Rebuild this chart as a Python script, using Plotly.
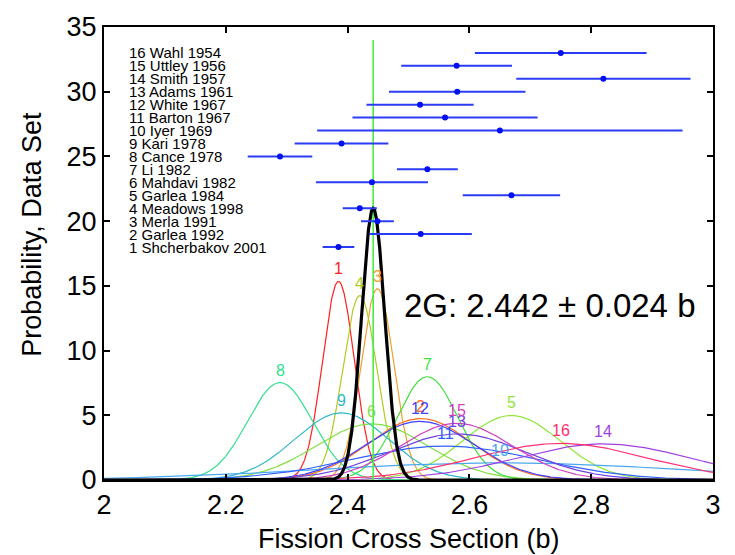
import numpy as np
import plotly.graph_objects as go

# Measured fission cross sections (barns) with 1-sigma uncertainties, data sets 1..16
set_ids = list(range(1, 17))
set_names = [
    "Shcherbakov 2001", "Garlea 1992", "Merla 1991", "Meadows 1998",
    "Garlea 1984", "Mahdavi 1982", "Li 1982", "Cance 1978",
    "Kari 1978", "Iyer 1969", "Barton 1967", "White 1967",
    "Adams 1961", "Smith 1957", "Uttley 1956", "Wahl 1954",
]
set_means = [2.385, 2.520, 2.449, 2.420, 2.669, 2.440, 2.531, 2.289,
             2.390, 2.650, 2.560, 2.519, 2.580, 2.820, 2.579, 2.750]
set_sigmas = [0.026, 0.084, 0.027, 0.028, 0.080, 0.092, 0.050, 0.053,
              0.077, 0.300, 0.152, 0.088, 0.112, 0.143, 0.091, 0.141]
# vertical offset so data set k is plotted at height k + offset
row_offset = 17

set_colors = [
    "#ff2020", "#ff6a1a", "#f0a030", "#b0cc20", "#8ce830", "#80e040",
    "#40e040", "#30e090", "#30b8c8", "#4aa8f0", "#3060ff", "#4040ff",
    "#7040e0", "#a040e0", "#d040c0", "#ff3070",
]

# Combined evaluation
combined_mean = 2.442
combined_unc = 0.024
combined_curve_sigma = 0.019

x_grid = np.linspace(2.0, 3.0, 2001)


def gauss(x, mu, s):
    return np.exp(-0.5 * ((x - mu) / s) ** 2) / (s * np.sqrt(2 * np.pi))


fig = go.Figure()

# individual probability curves
for i, mu, s, c in zip(set_ids, set_means, set_sigmas, set_colors):
    fig.add_trace(go.Scatter(
        x=x_grid, y=gauss(x_grid, mu, s), mode="lines",
        line=dict(color=c, width=1.2), hoverinfo="skip", showlegend=False,
    ))

# vertical line at the combined value
fig.add_trace(go.Scatter(
    x=[combined_mean, combined_mean], y=[0, 34], mode="lines",
    line=dict(color="#44ee44", width=1.6), showlegend=False, hoverinfo="skip",
))

# combined curve
fig.add_trace(go.Scatter(
    x=x_grid, y=gauss(x_grid, combined_mean, combined_curve_sigma), mode="lines",
    line=dict(color="black", width=3.2), showlegend=False, hoverinfo="skip",
))

# measurements with horizontal error bars
fig.add_trace(go.Scatter(
    x=set_means, y=[k + row_offset for k in set_ids], mode="markers",
    marker=dict(color="#0010ee", size=6, symbol="circle"),
    error_x=dict(type="data", array=set_sigmas, color="#2a3cf5",
                 thickness=2, width=0),
    showlegend=False,
))

annotations = []
# data set list
for i, name in zip(set_ids, set_names):
    annotations.append(dict(
        x=2.037, y=i + row_offset, xref="x", yref="y", text=f"{i} {name}",
        showarrow=False, xanchor="left", yanchor="middle",
        font=dict(family="Arial, Liberation Sans", size=15, color="black"),
    ))

# curve numbers above each peak
for i, mu, s, c in zip(set_ids, set_means, set_sigmas, set_colors):
    annotations.append(dict(
        x=mu, y=float(gauss(mu, mu, s)), xref="x", yref="y", text=str(i),
        showarrow=False, xanchor="center", yanchor="bottom", yshift=2,
        font=dict(family="Arial, Liberation Sans", size=16, color=c),
    ))

annotations.append(dict(
    x=2.490, y=13.5, xref="x", yref="y",
    text=f"2G: {combined_mean:.3f} \u00b1 {combined_unc:.3f} b",
    showarrow=False, xanchor="left", yanchor="middle",
    font=dict(family="Arial, Liberation Sans", size=33, color="black"),
))

annotations.append(dict(
    x=0.5, y=0, xref="paper", yref="paper", text="Fission Cross Section (b)",
    showarrow=False, xanchor="center", yanchor="middle", yshift=-59,
    font=dict(family="Arial, Liberation Sans", size=27, color="black"),
))
annotations.append(dict(
    x=0, y=0.5415, xref="paper", yref="paper", text="Probability, Data Set",
    showarrow=False, xanchor="center", yanchor="middle", xshift=-72,
    textangle=-90,
    font=dict(family="Arial, Liberation Sans", size=27, color="black"),
))

axis_common = dict(
    showline=True, linecolor="black", linewidth=2, mirror="allticks",
    ticks="inside", ticklen=6, tickwidth=2, tickcolor="black",
    showgrid=False, zeroline=False,
    tickfont=dict(family="Arial, Liberation Sans", size=27, color="black"),
)

fig.update_layout(
    width=735, height=555,
    margin=dict(l=104, r=22, t=22, b=75),
    paper_bgcolor="white", plot_bgcolor="white",
    xaxis=dict(range=[2, 3], dtick=0.2, tick0=2, **axis_common),
    yaxis=dict(range=[0, 35], dtick=5, tick0=0, **axis_common),
    annotations=annotations,
    showlegend=False,
)

fig.write_html("out.html")
